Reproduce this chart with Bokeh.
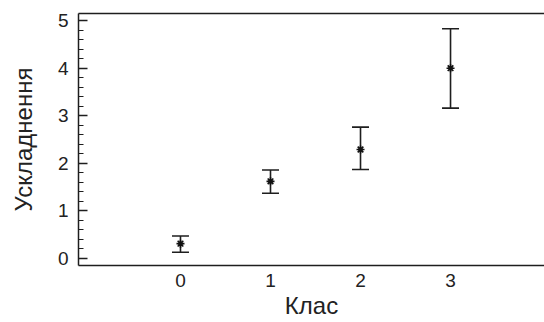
from bokeh.plotting import figure
from bokeh.models import ColumnDataSource, Whisker, TeeHead, FixedTicker, LinearAxis, Range1d
from bokeh.embed import file_html
from bokeh.resources import INLINE

classes = [0, 1, 2, 3]
means = [0.31, 1.62, 2.29, 4.0]
upper = [0.47, 1.86, 2.76, 4.83]
lower = [0.13, 1.37, 1.87, 3.16]
x_ticks = [0, 1, 2, 3]
y_ticks = [0, 1, 2, 3, 4, 5]
x_label = "Клас"
y_label = "Ускладнення"

src = ColumnDataSource(dict(x=classes, m=means, up=upper, lo=lower))

p = figure(width=544, height=322, output_backend="svg", toolbar_location=None,
           x_range=Range1d(-1.133, 4.044), y_range=Range1d(-0.15, 5.15),
           min_border_left=78, min_border_right=0, min_border_top=13, min_border_bottom=57,
           x_axis_label=x_label, y_axis_label=y_label)
p.outline_line_color = None
p.grid.visible = False
p.background_fill_color = "white"
p.border_fill_color = "white"

col = "#1e1e1e"
font = "Liberation Sans"

xa = p.xaxis[0]
xa.ticker = FixedTicker(ticks=x_ticks)
xa.major_tick_in = 0
xa.major_tick_out = 0
xa.minor_tick_in = 0
xa.minor_tick_out = 0
xa.axis_line_width = 1.5
xa.axis_line_color = col
xa.major_label_text_font = font
xa.major_label_text_font_size = "19px"
xa.major_label_text_color = "#222"
xa.major_label_standoff = 8
xa.axis_label_text_font = font
xa.axis_label_text_font_size = "24px"
xa.axis_label_text_font_style = "normal"
xa.axis_label_text_color = "#222"
xa.axis_label_standoff = 2

ya = p.yaxis[0]
ya.ticker = FixedTicker(ticks=y_ticks, minor_ticks=[i * 0.2 for i in range(0, 26)])
ya.major_tick_in = 9
ya.major_tick_out = 0
ya.minor_tick_in = 5
ya.minor_tick_out = 0
ya.major_tick_line_width = 1.5
ya.minor_tick_line_width = 1.2
ya.major_tick_line_color = col
ya.minor_tick_line_color = col
ya.axis_line_width = 1.5
ya.axis_line_color = col
ya.major_label_text_font = font
ya.major_label_text_font_size = "19px"
ya.major_label_text_color = "#222"
ya.major_label_standoff = 10
ya.axis_label_text_font = font
ya.axis_label_text_font_size = "24px"
ya.axis_label_text_font_style = "normal"
ya.axis_label_text_color = "#222"
ya.axis_label_standoff = 18

top = LinearAxis(major_tick_in=0, major_tick_out=0, minor_tick_in=0, minor_tick_out=0,
                 major_label_text_font_size="0px", axis_line_width=1.5, axis_line_color=col)
top.major_label_text_alpha = 0
p.add_layout(top, "above")

w = Whisker(source=src, base="x", upper="up", lower="lo", dimension="height",
            line_color=col, line_width=1.6,
            upper_head=TeeHead(size=17, line_color=col, line_width=1.6),
            lower_head=TeeHead(size=17, line_color=col, line_width=1.6))
p.add_layout(w)

p.scatter("x", "m", source=src, marker="asterisk", size=8, line_width=1.6, line_color="#111")
p.scatter("x", "m", source=src, marker="circle", size=3.5, fill_color="#111", line_color="#111")

open("out.html", "w").write(file_html(p, INLINE))
